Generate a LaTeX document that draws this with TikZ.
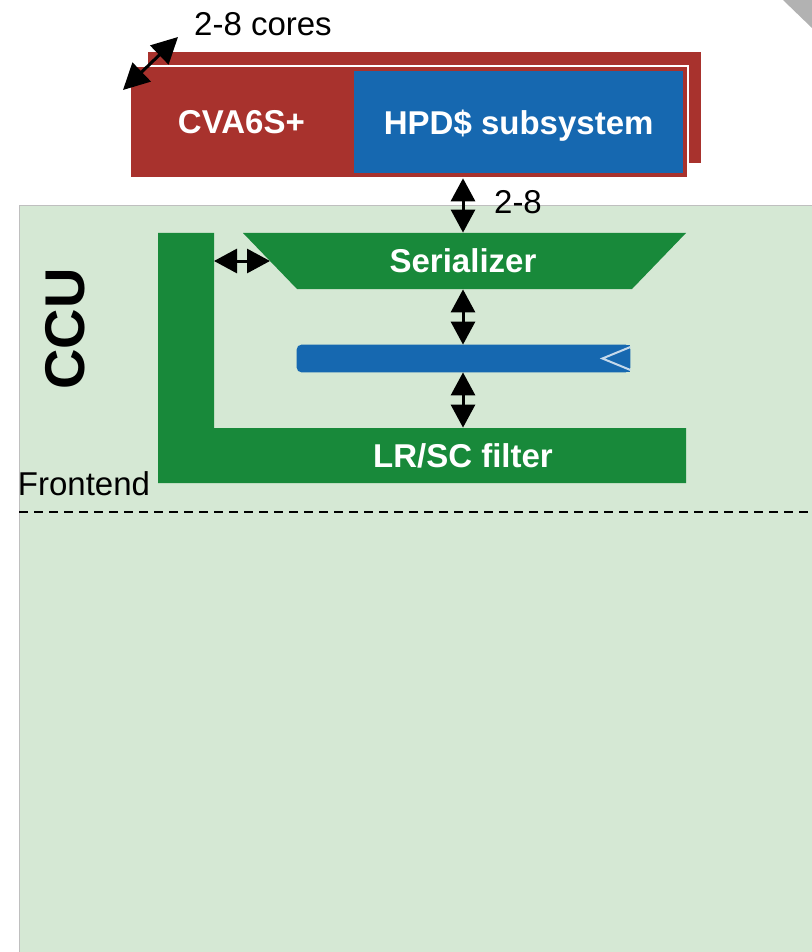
\documentclass[tikz,border=0pt]{standalone}
\usepackage{fontspec}
\setmainfont{Liberation Sans}
\usetikzlibrary{arrows.meta, positioning, calc}
\definecolor{corered}{RGB}{168,50,45}
\definecolor{cacheblue}{RGB}{22,104,176}
\definecolor{ccugreen}{RGB}{24,137,58}
\definecolor{ccubg}{RGB}{213,232,212}

\begin{document}
\begin{tikzpicture}[x=0.5pt, y=-0.5pt, >={Triangle[length=11.5pt, width=12pt]},
	link/.style={<->, line width=1.5pt},
	block/.style={rectangle, inner sep=0pt, text=white, font=\bfseries\fontsize{16.5}{18}\selectfont},
	lbl/.style={inner sep=0pt, font=\fontsize{16.5}{18}\selectfont}]
	\useasboundingbox (0,0) rectangle (812,952);
	\fill[black!30] (783,0) -- (812,0) -- (812,28) -- cycle;
	% CCU area
	\fill[ccubg, draw=black!25, line width=0.4pt] (19,205) rectangle (812,952);
	\node[lbl, rotate=90, font=\bfseries\fontsize{28}{30}\selectfont] (ccu) at (65,329) {CCU};
	% stacked cores
	\node[block, fill=corered, minimum width=276.5pt, minimum height=55.5pt] (back) at (424.5,107.5) {};
	\node[block, fill=corered, draw=black!15, double=white, double distance=0.8pt, line width=0.3pt, minimum width=279pt, minimum height=56pt] (core) at (409,122) {};
	\node[block, fill=cacheblue, draw=corered, line width=0.6pt, minimum width=165pt, minimum height=52pt, text depth=0pt, anchor=east] (hpd) at ([xshift=-2pt]core.east) {HPD\$ subsystem};
	\node[block] (cva) at ($(core.west)!0.5!(hpd.west)$) {CVA6S+};
	\node[lbl] (cores) at (263,24) {2-8 cores};
	% serializer, bar, filter
	\fill[ccugreen] (158,233) -- (214,233) -- (214,428) -- (686,428) -- (686,483) -- (158,483) -- cycle;
	\fill[ccugreen] (243,233) -- (686,233) -- (632,289) -- (297,289) -- cycle;
	\node[block, minimum height=28pt] (ser) at (463,261) {Serializer};
	\node[block, minimum height=27.5pt] (lrsc) at (463,455.5) {LR/SC filter};
	\node[rectangle, inner sep=0pt, minimum width=166.5pt, minimum height=13.5pt] (bar) at (463.5,358.5) {};
	\fill[cacheblue, rounded corners=2.5pt] (bar.south west) rectangle (bar.north east);
	\fill[cacheblue] (bar.south) rectangle (bar.north east);
	\draw[white!75!cacheblue, line width=1pt] ([yshift=-1.2pt]bar.north east) -- ([xshift=-14pt]bar.east) -- ([yshift=1.2pt]bar.south east);
	\node[lbl] (ports) at (518,202) {2-8};
	\node[lbl] (fe) at (84,483.5) {Frontend};
	% links
	\coordinate (stackfront) at (123,90);
	\coordinate (stackback) at (178,37);
	\coordinate (lbar) at (214,261);
	\coordinate (serslope) at (270,261);
	\coordinate (feleft) at (19,512);
	\coordinate (feright) at (812,512);
	\draw[link, >={Triangle[length=13pt, width=13pt]}] (stackfront) -- (stackback);
	\draw[link] (core.south -| ser.north) -- (ser.north);
	\draw[link] (ser.south) -- (bar.north -| ser.south);
	\draw[link] (bar.south -| lrsc.north) -- (lrsc.north);
	\draw[link] (lbar) -- (serslope);
	\draw[line width=1.2pt, dash pattern=on 4.5pt off 3pt] (feleft) -- (feright);
\end{tikzpicture}
\end{document}
